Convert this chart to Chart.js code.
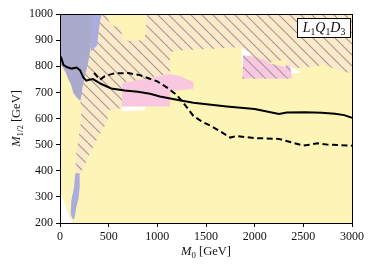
<!DOCTYPE html>
<html lang="en">
<head>
<meta charset="UTF-8">
<title>L1Q1D3 limits</title>
<script src="https://cdn.jsdelivr.net/npm/chart.js@4/dist/chart.umd.min.js"></script>
<style>
  body { margin: 0; background: #fff; }
</style>
</head>
<body>
<canvas id="chart" width="374" height="268"></canvas>
<script>
// tick values
const xTickValues = [0, 500, 1000, 1500, 2000, 2500, 3000];
const yTickValues = [200, 300, 400, 500, 600, 700, 800, 900, 1000];

// limit curves (M0, M1/2 in GeV)
const solidM0  = [0, 15, 35, 70, 120, 170, 205, 240, 270, 300, 340, 424, 527, 665, 800, 925, 1027, 1200, 1370, 1713, 2000, 2250, 2330, 2517, 2688, 2825, 2920, 3000];
const solidM12 = [840, 830, 805, 797, 791, 795, 785, 757, 745, 748, 751, 732, 715, 707, 702, 695, 684, 672, 660, 646, 636, 617, 623, 624, 622, 618, 613, 603];
const dashM0   = [350, 410, 460, 560, 700, 820, 1000, 1100, 1200, 1267, 1370, 1450, 1541, 1650, 1750, 1810, 2000, 2250, 2500, 2650, 2750, 3000];
const dashM12  = [775, 748, 762, 773, 774, 766, 742, 718, 690, 660, 610, 590, 573, 550, 527, 533, 525, 522, 496, 505, 500, 496];

// shaded regions, outlines as [M0, M1/2]
const hatchedArea = [[0, 1000], [3000, 1000], [3000, 200], [125, 200], [0, 325]];
const yellowMain = [[0, 325], [0, 810], [208, 668], [212, 650], [220, 600], [192, 528], [167, 464], [157, 400], [185, 368],
  [226, 400], [305, 464], [390, 528], [493, 592], [480, 632], [637, 640], [637, 735], [1130, 770], [1130, 855],
  [1284, 862], [1600, 867], [1866, 874], [1870, 753], [2384, 753], [2384, 792], [2466, 794], [2548, 797],
  [2723, 804], [2856, 785], [2928, 778], [3000, 773], [3000, 200], [125, 200]];
const yellowTop = [[480, 1000], [892, 1000], [885, 930], [860, 900], [700, 898], [640, 905], [630, 948], [530, 955], [500, 975]];
const yellowSliver = [[2130, 812], [2320, 826], [2320, 797]];
const whiteSpots = [
  [[637, 646], [890, 646], [870, 632], [637, 628]],
  [[1866, 872], [1960, 850], [1890, 790], [1866, 800]],
  [[2342, 804], [2486, 777], [2342, 769]]
];
const pinkMid = [[637, 735], [822, 748], [1027, 762], [1130, 770], [1233, 762], [1370, 740], [1370, 714], [1233, 708], [1130, 708], [1130, 646], [925, 646], [637, 646]];
const pinkTop = [[1880, 842], [2003, 836], [2137, 818], [2363, 802], [2384, 753], [1880, 753]];
const blueMain = [[0, 1000], [336, 1000], [328, 930], [310, 860], [295, 825], [275, 790], [248, 752], [230, 716], [220, 685], [208, 668],
  [170, 680], [135, 700], [115, 728], [85, 752], [60, 775], [30, 795], [0, 810]];
const blueLight = [[330, 1000], [430, 1000], [410, 970], [392, 920], [383, 880], [322, 858], [315, 870], [325, 930]];
const blueLow = [[157, 390], [202, 390], [202, 336], [192, 297], [167, 259], [151, 221], [134, 212], [110, 233], [116, 285], [144, 336]];

const SERIF = "'Liberation Serif', 'DejaVu Serif', serif";

function hatch(bg, line) {
  const s = 11;
  const c = document.createElement('canvas');
  c.width = s; c.height = s;
  const g = c.getContext('2d');
  g.fillStyle = bg;
  g.fillRect(0, 0, s, s);
  g.strokeStyle = line;
  g.lineWidth = 1.1;
  for (const k of [-1, 0, 1]) {
    g.beginPath();
    g.moveTo(k * s, 0);
    g.lineTo(k * s + s, s);
    g.stroke();
  }
  return g.createPattern(c, 'repeat');
}

function poly(pts, color, order) {
  return {
    data: pts.map(p => ({x: p[0], y: p[1]})),
    backgroundColor: color,
    borderColor: 'rgba(0,0,0,0)',
    borderWidth: 0,
    pointRadius: 0,
    tension: 0,
    fill: 'shape',
    order: order
  };
}

function curve(xs, ys, dash, order) {
  return {
    data: xs.map((x, i) => ({x: x, y: ys[i]})),
    borderColor: '#000',
    borderWidth: 2,
    borderDash: dash,
    pointRadius: 0,
    tension: 0,
    fill: false,
    order: order
  };
}

// draw italic/subscript pieces of text
function mathText(ctx, parts, x, y, size, align) {
  const fonts = parts.map(p => (p.it ? 'italic ' : '') + (p.sub ? size * 0.7 : size) + 'px ' + SERIF);
  let w = 0;
  const widths = parts.map((p, i) => { ctx.font = fonts[i]; const m = ctx.measureText(p.t).width; w += m; return m; });
  let cx = align === 'center' ? x - w / 2 : x;
  ctx.textAlign = 'left';
  ctx.textBaseline = 'alphabetic';
  parts.forEach((p, i) => {
    ctx.font = fonts[i];
    ctx.fillText(p.t, cx, y + (p.sub ? size * 0.22 : 0));
    cx += widths[i];
  });
  return w;
}

const overlay = {
  id: 'overlay',
  afterDraw(chart) {
    const {ctx, chartArea: a} = chart;
    ctx.save();
    ctx.strokeStyle = '#000';
    ctx.lineWidth = 1;
    ctx.strokeRect(Math.round(a.left) + 0.5, Math.round(a.top) + 0.5, Math.round(a.right - a.left), Math.round(a.bottom - a.top));
    ctx.fillStyle = '#111';
    // x title
    mathText(ctx, [{t: 'M', it: true}, {t: '0', sub: true}, {t: ' [GeV]'}], (a.left + a.right) / 2, 255, 12.5, 'center');
    // y title
    ctx.save();
    ctx.translate(20, (a.top + a.bottom) / 2);
    ctx.rotate(-Math.PI / 2);
    mathText(ctx, [{t: 'M', it: true}, {t: '1/2', sub: true}, {t: ' [GeV]'}], 0, 0, 12.5, 'center');
    ctx.restore();
    // model label
    const bx = 297, by = 18, bw = 54, bh = 20;
    ctx.fillStyle = '#fff';
    ctx.fillRect(bx, by, bw, bh);
    ctx.strokeStyle = '#000';
    ctx.strokeRect(bx + 0.5, by + 0.5, bw - 1, bh - 1);
    ctx.fillStyle = '#111';
    mathText(ctx, [{t: 'L', it: true}, {t: '1', sub: true}, {t: 'Q', it: true}, {t: '1', sub: true}, {t: 'D', it: true}, {t: '3', sub: true}],
      bx + bw / 2, by + 14, 14, 'center');
    ctx.restore();
  }
};

const beige = hatch('#fde9c8', '#9a9a9a');
const pinkHatch = hatch('#f9c8e0', '#9a9a9a');

const datasets = [
  curve(solidM0, solidM12, [], 0),
  curve(dashM0, dashM12, [6, 3.5], 1),
  poly(blueMain, '#aaaacd', 2),
  poly(blueLight, '#aaadde', 2),
  poly(blueLow, '#aaadde', 2),
  poly(yellowSliver, '#fdf5b7', 3),
  poly(pinkMid, '#f9c8e0', 4),
  poly(pinkTop, pinkHatch, 4),
  ...whiteSpots.map(w => poly(w, '#ffffff', 5)),
  poly(yellowMain, '#fdf5b7', 6),
  poly(yellowTop, '#fdf5b7', 6),
  poly(hatchedArea, beige, 7)
];

const tickFont = {family: SERIF, size: 12};
const plain = v => String(v);

new Chart(document.getElementById('chart'), {
  type: 'line',
  data: {datasets: datasets},
  options: {
    responsive: false,
    animation: false,
    events: [],
    layout: {padding: {top: 14, right: 22, left: 0, bottom: 0}},
    plugins: {legend: {display: false}, tooltip: {enabled: false}},
    scales: {
      x: {
        type: 'linear',
        min: 0, max: 3000,
        afterBuildTicks: s => { s.ticks = xTickValues.map(v => ({value: v})); },
        afterFit: s => { s.height = 45; },
        grid: {drawOnChartArea: false, tickLength: 4, tickColor: '#000'},
        border: {color: '#000', width: 1},
        ticks: {font: tickFont, color: '#111', padding: 3, maxRotation: 0, autoSkip: false, callback: plain}
      },
      y: {
        type: 'linear',
        min: 200, max: 1000,
        afterBuildTicks: s => { s.ticks = yTickValues.map(v => ({value: v})); },
        afterFit: s => { s.width = 60; },
        grid: {drawOnChartArea: false, tickLength: 4, tickColor: '#000'},
        border: {color: '#000', width: 1},
        ticks: {font: tickFont, color: '#111', padding: 3, autoSkip: false, callback: plain}
      }
    }
  },
  plugins: [overlay]
});
</script>
</body>
</html>
